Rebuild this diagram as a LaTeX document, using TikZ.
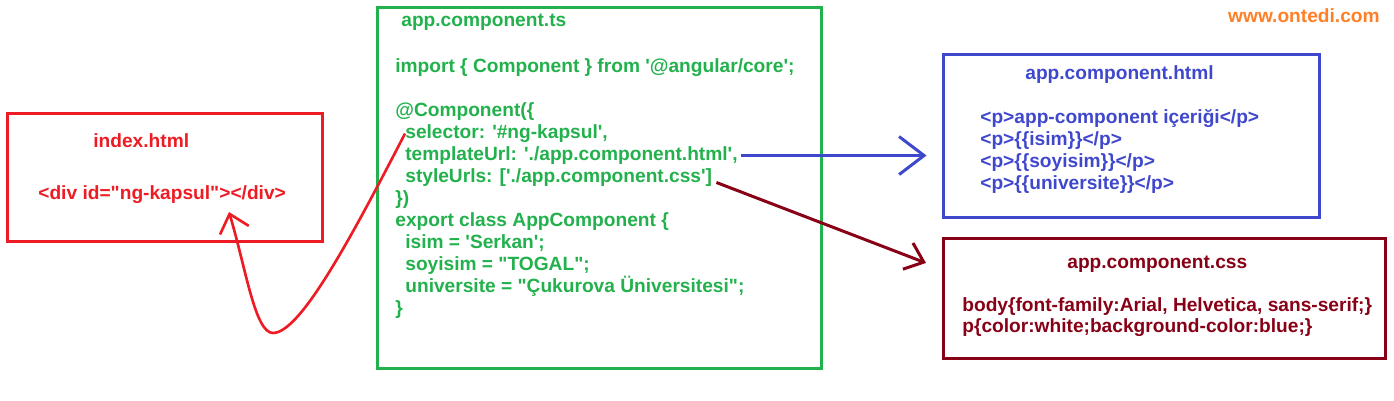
\documentclass[tikz,border=0pt]{standalone}
\usepackage{fontspec}
\newfontfamily\arialfont{Liberation Sans}
\usetikzlibrary{arrows.meta}
\definecolor{idxred}{RGB}{237,28,36}
\definecolor{tsgreen}{RGB}{34,177,76}
\definecolor{htmlblue}{RGB}{63,72,204}
\definecolor{cssred}{RGB}{136,0,21}
\definecolor{siteorange}{RGB}{255,127,39}

\begin{document}
\begin{tikzpicture}[
    x=0.02cm, y=-0.02cm,
    filebox/.style={rectangle, line width=1.7pt, inner sep=0pt},
    code/.style={anchor=base west, inner sep=0pt,
        font=\arialfont\bfseries\fontsize{10.9}{12.6}\selectfont},
    link/.style={line width=1.5pt}
]
    \useasboundingbox (0,0) rectangle (1394,401);

    % boxes
    \node[filebox, draw=idxred, minimum width=6.32cm, minimum height=2.58cm] (idxbox) at (165,177.5) {};
    \node[filebox, draw=tsgreen, minimum width=8.9cm, minimum height=7.24cm] (tsbox) at (599.5,188) {};
    \node[filebox, draw=htmlblue, minimum width=7.54cm, minimum height=3.28cm] (htmlbox) at (1131.5,136) {};
    \node[filebox, draw=cssred, minimum width=8.86cm, minimum height=2.42cm] (cssbox) at (1164.5,298.5) {};

    % index.html
    \node[code, idxred] (idxtitle) at (93,148) {index.html};
    \node[code, idxred] (idxdiv) at (38,200) {<div id="ng-kapsul"></div>};

    % app.component.ts
    \node[code, tsgreen] (tstitle) at (401,27) {app.component.ts};
    \node[code, tsgreen] (imp) at (395,72.5) {import \{ Component \} from '@angular/core';};
    \node[code, tsgreen] (deco) at (395,116.5) {@Component(\{};
    \node[code, tsgreen] (sel) at (405,138.5) {selector: '\#ng-kapsul',};
    \node[code, tsgreen] (tpl) at (405,160.5) {templateUrl: './app.component.html',};
    \node[code, tsgreen] (sty) at (405,182.5) {styleUrls: ['./app.component.css']};
    \node[code, tsgreen] (decoend) at (395,204.5) {\})};
    \node[code, tsgreen] (cls) at (395,226.5) {export class AppComponent \{};
    \node[code, tsgreen] (isim) at (405,248.5) {isim = 'Serkan';};
    \node[code, tsgreen] (soyisim) at (405,270.7) {soyisim = "TOGAL";};
    \node[code, tsgreen] (uni) at (405,292.8) {universite = "Çukurova Üniversitesi";};
    \node[code, tsgreen] (clsend) at (395,315) {\}};

    % app.component.html
    \node[code, htmlblue] (htmltitle) at (1025,80) {app.component.html};
    \node[code, htmlblue] (hp1) at (980,124) {<p>app-component içeriği</p>};
    \node[code, htmlblue] (hp2) at (980,146) {<p>\{\{isim\}\}</p>};
    \node[code, htmlblue] (hp3) at (980,168) {<p>\{\{soyisim\}\}</p>};
    \node[code, htmlblue] (hp4) at (980,190) {<p>\{\{universite\}\}</p>};

    % app.component.css
    \node[code, cssred] (csstitle) at (1067,269) {app.component.css};
    \node[code, cssred] (css1) at (962,312) {body\{font-family:Arial, Helvetica, sans-serif;\}};
    \node[code, cssred] (css2) at (962,333) {p\{color:white;background-color:blue;\}};

    \node[code, siteorange, anchor=base east] (site) at (1380,23) {www.ontedi.com};

    % connectors
    \coordinate (divin) at (229,212);
    \coordinate (cssin) at (926,263);
    \draw[link, idxred, -{Straight Barb[length=0.34cm, width=0.6cm]}]
        (sel.west) .. controls (350,240) and (300,333) .. (273,333)
        .. controls (255,333) and (246,269) .. (divin);
    \draw[link, htmlblue, line width=1.7pt, -{Straight Barb[length=0.5cm, width=0.76cm]}]
        ([xshift=0.06cm]tpl.east) -- ([xshift=-0.3cm]htmlbox.west |- tpl.east);
    \draw[link, cssred, line width=1.7pt, -{Straight Barb[length=0.34cm, width=0.56cm]}]
        ([xshift=0.08cm]sty.base east) -- (cssin);
\end{tikzpicture}
\end{document}
